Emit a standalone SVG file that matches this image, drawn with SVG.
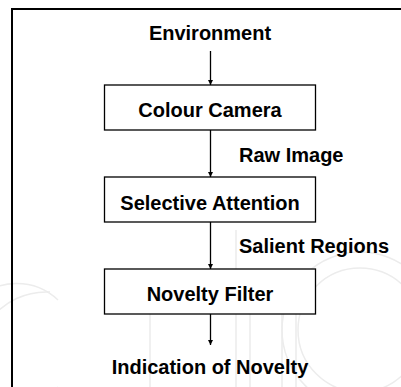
<svg xmlns="http://www.w3.org/2000/svg" width="401" height="387" viewBox="0 0 401 387">
  <style>
    .node rect { fill: #ffffff; stroke: #000000; stroke-width: 1.3; }
    .label { font-family: "Liberation Sans", Arial, sans-serif; font-weight: bold; font-size: 20px; fill: #000000; }
    .mid { text-anchor: middle; }
    .edge { stroke: #000000; stroke-width: 1.3; fill: none; marker-end: url(#arrow); }
    .mark { fill: none; stroke: #ececec; stroke-width: 1.5; }
  </style>
  <defs>
    <marker id="arrow" viewBox="0 0 10 10" refX="10" refY="5" markerWidth="5" markerHeight="6" markerUnits="userSpaceOnUse" orient="auto">
      <path d="M0,0 L10,5 L0,10 z" fill="#000000"/>
    </marker>
  </defs>

  <rect width="401" height="387" fill="#ffffff"/>

  <!-- faint background ornament -->
  <g id="ornament">
    <path class="mark" d="M58,300 A60,60 0 1 0 58,387"/>
    <path class="mark" d="M-10,320 A70,70 0 0 1 50,292"/>
    <path class="mark" d="M236,387 L236,230 M236,300 A30,30 0 0 1 296,300 L296,387"/>
    <path class="mark" d="M250,387 L250,300 A16,16 0 0 1 282,300 L282,387"/>
    <circle class="mark" cx="360" cy="330" r="78"/>
    <circle class="mark" cx="360" cy="330" r="62"/>
    <path class="mark" d="M150,387 L150,300 A30,30 0 0 1 180,270"/>
  </g>

  <!-- outer frame -->
  <path d="M12,400 L12,9 L410,9" fill="none" stroke="#000000" stroke-width="2"/>

  <text class="label mid" x="210" y="40">Environment</text>

  <g id="colour-camera" class="node">
    <rect x="104.5" y="85" width="211" height="45"/>
    <text class="label mid" x="210" y="117">Colour Camera</text>
  </g>

  <g id="selective-attention" class="node">
    <rect x="104.5" y="177" width="211" height="45"/>
    <text class="label mid" x="210" y="209.5">Selective Attention</text>
  </g>

  <g id="novelty-filter" class="node">
    <rect x="104.5" y="269" width="211" height="45"/>
    <text class="label mid" x="210" y="301">Novelty Filter</text>
  </g>

  <text class="label mid" x="210" y="374">Indication of Novelty</text>

  <g id="connectors">
    <line class="edge" x1="210.5" y1="51" x2="210.5" y2="85"/>
    <line class="edge" x1="210.5" y1="130" x2="210.5" y2="177"/>
    <line class="edge" x1="210.5" y1="222" x2="210.5" y2="269"/>
    <line class="edge" x1="210.5" y1="314" x2="210.5" y2="345"/>
    <text class="label" x="239" y="162">Raw Image</text>
    <text class="label" x="239" y="253">Salient Regions</text>
  </g>
</svg>
